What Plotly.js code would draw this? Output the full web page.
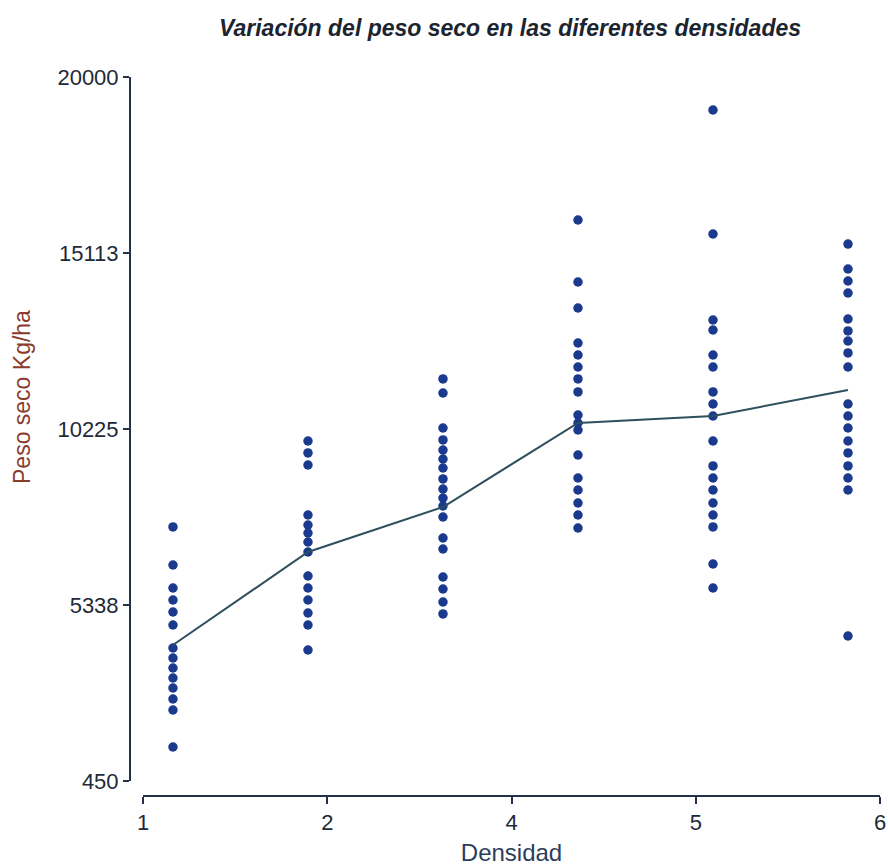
<!DOCTYPE html>
<html><head><meta charset="utf-8">
<script src="https://cdn.plot.ly/plotly-3.0.1.min.js"></script>
<style>body{margin:0;background:#fff}#chart{width:888px;height:868px}</style>
</head><body><div id="chart"></div>
<script>
// Data
const densities = [1, 2, 3, 4, 5, 6];
const peso_d1 = [7504, 6448, 5810, 5476, 5143, 4782, 4143, 3866, 3588, 3310, 3033, 2727, 2422, 1394];
const peso_d2 = [9892, 9559, 9225, 7837, 7559, 7337, 7087, 6809, 6143, 5810, 5476, 5115, 4782, 4088];
const peso_d3 = [11614, 11225, 10253, 9920, 9642, 9392, 9142, 8837, 8559, 8309, 8087, 7781, 7198, 6893, 6115, 5782, 5421, 5088];
const peso_d4 = [16029, 14307, 13585, 12613, 12280, 11947, 11614, 11253, 10614, 10392, 10197, 9503, 8864, 8531, 8170, 7837, 7476];
const peso_d5 = [19084, 15640, 13252, 12974, 12280, 11947, 11253, 10919, 10586, 9892, 9198, 8864, 8531, 8170, 7837, 7504, 6476, 5810];
const peso_d6 = [15362, 14668, 14335, 14002, 13280, 12947, 12669, 12336, 11947, 10919, 10586, 10253, 9892, 9559, 9198, 8864, 8531, 4477];
const mean_values = [4227, 6809, 8059, 10392, 10586, 11308];
const xTickLabels = ["1", "2", "4", "5", "6"];
const yTickLabels = ["450", "5338", "10225", "15113", "20000"];
const xRange = [0.778, 6.237];
const yRange = [450, 20000];

const groups = [peso_d1, peso_d2, peso_d3, peso_d4, peso_d5, peso_d6];
const px = [], py = [];
groups.forEach((g, i) => g.forEach(v => { px.push(densities[i]); py.push(v); }));

const ticks = (r, n) => Array.from({length: n}, (_, i) => r[0] + i * (r[1] - r[0]) / (n - 1));

const FONT = 'Liberation Sans, Arial, sans-serif';
const AX = '#22324a';

const traces = [
  {x: px, y: py, type: 'scatter', mode: 'markers',
   marker: {color: '#1b3a8e', size: 9.5, line: {width: 0}}, hoverinfo: 'x+y'},
  {x: densities, y: mean_values, type: 'scatter', mode: 'lines',
   line: {color: '#2e4f5c', width: 2}}
];

const layout = {
  width: 888, height: 868,
  margin: {l: 130, r: 8, t: 77, b: 72},
  paper_bgcolor: '#ffffff', plot_bgcolor: '#ffffff',
  showlegend: false,
  font: {family: FONT, color: AX},
  title: {
    text: '<b><i>Variación del peso seco en las diferentes densidades</i></b>',
    x: 510 / 888, xref: 'container', xanchor: 'center',
    y: 1 - 28 / 868, yref: 'container', yanchor: 'middle',
    font: {family: FONT, size: 23, color: '#1c2430'}
  },
  xaxis: {
    domain: [13 / 750, 1], anchor: 'free', position: 0,
    range: xRange, tickmode: 'array', tickvals: ticks(xRange, 5), ticktext: xTickLabels,
    showline: true, linecolor: AX, linewidth: 2,
    ticks: 'outside', ticklen: 7, tickwidth: 2, tickcolor: AX,
    showgrid: false, zeroline: false,
    tickfont: {family: FONT, size: 22, color: '#1e2a38'},
    title: {text: 'Densidad', standoff: 9, font: {family: FONT, size: 24, color: '#2c3e5c'}}
  },
  yaxis: {
    domain: [15 / 719, 1], anchor: 'free', position: 0,
    range: yRange, tickmode: 'array', tickvals: ticks(yRange, 5), ticktext: yTickLabels,
    showline: true, linecolor: AX, linewidth: 2,
    ticks: 'outside', ticklen: 6, tickwidth: 2, tickcolor: AX,
    showgrid: false, zeroline: false,
    tickfont: {family: FONT, size: 22, color: '#1e2a38'}
  },
  annotations: [{
    text: 'Peso seco Kg/ha', textangle: -90, showarrow: false,
    xref: 'paper', yref: 'paper',
    x: (22 - 130) / 750, y: (796 - 397) / 719, xanchor: 'center', yanchor: 'middle',
    font: {family: FONT, size: 23, color: '#8a3b2c'}
  }]
};

Plotly.newPlot('chart', traces, layout, {displayModeBar: false, staticPlot: true});
</script>
</body></html>
